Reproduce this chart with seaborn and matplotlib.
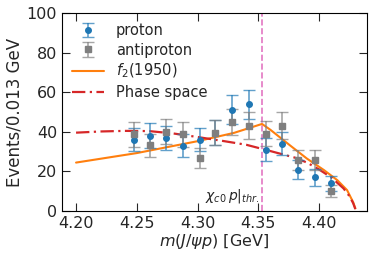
import numpy as np
import pandas as pd
import matplotlib
matplotlib.use("Agg")
import matplotlib.pyplot as plt
import seaborn as sns

# ---- data ----
mass = [4.2478, 4.2610, 4.2741, 4.2879, 4.3016, 4.3147, 4.3285, 4.3419,
        4.3559, 4.3691, 4.3826, 4.3963, 4.4100]
proton = [36.1, 38.1, 37.1, 33.1, 36.1, 39.5, 51.2, 53.9, 31.1, 34.1, 21.0, 17.0, 14.0]
proton_err = [6.0, 6.2, 6.1, 5.8, 6.0, 6.3, 7.2, 7.3, 5.6, 5.8, 4.6, 4.1, 3.7]
antiproton = [38.8, 33.2, 40.0, 38.8, 26.9, 39.5, 45.0, 43.2, 39.1, 43.2, 25.7, 25.7, 10.2]
antiproton_err = [6.2, 5.8, 6.3, 6.2, 5.2, 6.3, 6.7, 6.6, 6.3, 6.6, 5.1, 5.1, 3.2]

f2_x = [4.20, 4.25, 4.30, 4.33, 4.353, 4.36, 4.376, 4.39, 4.404, 4.415, 4.423, 4.428, 4.4298]
f2_y = [24.5, 29.3, 35.3, 39.5, 44.0, 41.0, 33.2, 26.5, 20.7, 15.6, 10.6, 4.5, 1.4]

ps_x = [4.20, 4.22, 4.24, 4.26, 4.28, 4.30, 4.32, 4.34, 4.36, 4.38, 4.39,
        4.40, 4.41, 4.42, 4.425, 4.428, 4.4298]
ps_y = [39.6, 40.2, 40.5, 40.4, 39.2, 37.4, 35.5, 33.5, 30.3, 27.0, 24.5,
        21.0, 17.0, 11.5, 7.5, 4.0, 1.0]

threshold = 4.353

sns.set_theme(style="ticks")
plt.rcParams['font.family'] = ['DejaVu Sans']

fig = plt.figure(figsize=(3.74, 2.6), dpi=100)
ax = fig.add_axes([0.166, 0.188, 0.815, 0.762])

h1 = ax.errorbar(mass, proton, yerr=proton_err, fmt='o', color='#1f77b4', ms=4,
                 capsize=4, elinewidth=1.2, ecolor=(0.12, 0.47, 0.71, 0.7), label='proton', zorder=3)
h2 = ax.errorbar(mass, antiproton, yerr=antiproton_err, fmt='s', color='#7f7f7f', ms=4,
                 capsize=4, elinewidth=1.2, ecolor=(0.5, 0.5, 0.5, 0.7), label='antiproton', zorder=3)

sns.lineplot(x=f2_x, y=f2_y, ax=ax, color='#ff7f0e', lw=1.5, label=r'$f_2(1950)$', zorder=2)
sns.lineplot(x=ps_x, y=ps_y, ax=ax, color='#d62728', lw=1.6, linestyle=(0, (6, 2, 1, 2)),
             label='Phase space', zorder=2)

ax.axvline(threshold, color='#e377c2', lw=1.2, linestyle='--', zorder=1)
ax.text(threshold - 0.002, 3, r'$\chi_{c0}\,p|_{thr.}$', ha='right', va='bottom', fontsize=10)

ax.set_xlim(4.1885, 4.4393)
ax.set_ylim(0, 100)
ax.set_xticks([4.20, 4.25, 4.30, 4.35, 4.40])
ax.set_xticklabels(['4.20', '4.25', '4.30', '4.35', '4.40'])
ax.set_yticks([0, 20, 40, 60, 80, 100])
ax.tick_params(direction='in', top=True, right=True, length=6, labelsize=11.5, width=0.8)
for s in ax.spines.values():
    s.set_linewidth(0.8)
    s.set_color('black')

ax.set_xlabel(r'$m(J/\psi p)$ [GeV]', fontsize=11.5, labelpad=1)
ax.set_ylabel('Events/0.013 GeV', fontsize=12, labelpad=2)

handles, labels = ax.get_legend_handles_labels()
order = [labels.index(l) for l in ['proton', 'antiproton', r'$f_2(1950)$', 'Phase space']]
ax.legend([handles[i] for i in order], [labels[i] for i in order],
          loc='upper left', frameon=False, fontsize=10.5, handlelength=2.2,
          borderaxespad=0.3, labelspacing=0.3)

fig.savefig('out.png', dpi=100)
